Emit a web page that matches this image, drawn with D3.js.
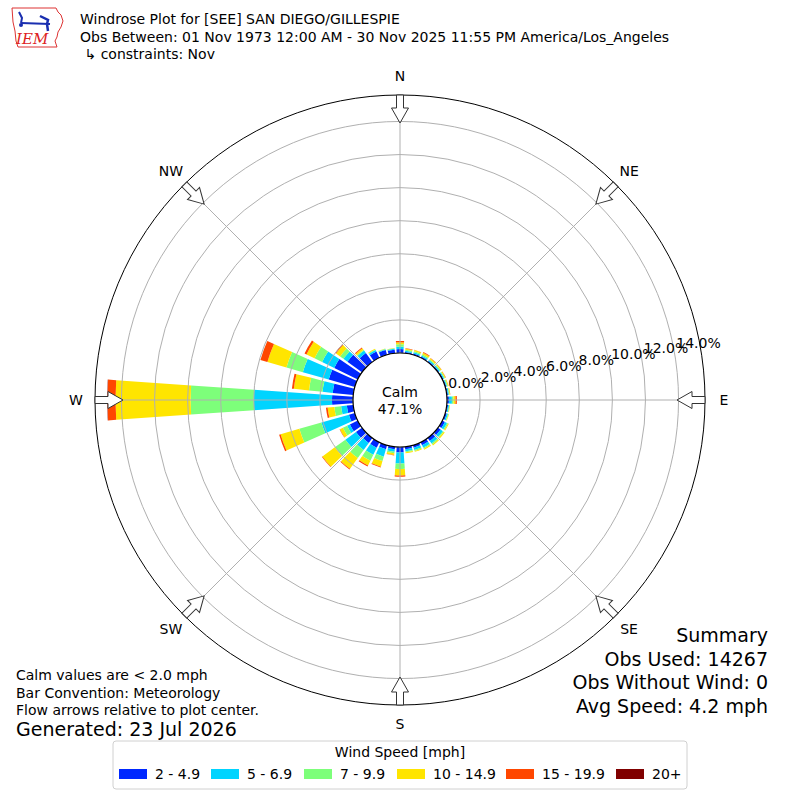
<!DOCTYPE html>
<html>
<head>
<meta charset="utf-8">
<script src="https://cdn.jsdelivr.net/npm/d3@7"></script>
<style>
body { margin: 0; background: #fff; }
text { font-family: "DejaVu Sans", sans-serif; fill: #000; }
</style>
</head>
<body>
<svg id="chart" width="800" height="800"></svg>
<script>
const cx = 400, cy = 400;
const calm_r = 47;
const outer_r = 305;

// wind direction bins (degrees, direction wind is from)
const directions = [0, 10, 20, 30, 40, 50, 60, 70, 80, 90, 100, 110, 120, 130, 140, 150, 160, 170,
                    180, 190, 200, 210, 220, 230, 240, 250, 260, 270, 280, 290, 300, 310, 320, 330, 340, 350];
const compassLabels = ["N", "NE", "E", "SE", "S", "SW", "W", "NW"];
const compassAngles = [0, 45, 90, 135, 180, 225, 270, 315];
const speedBins = ["2 - 4.9", "5 - 6.9", "7 - 9.9", "10 - 14.9", "15 - 19.9", "20+"];
const speedColors = ["#0028ff", "#00d4ff", "#7dff7a", "#ffe500", "#ff4700", "#800000"];

// percent of obs per direction and speed bin
const spd2_5 = [0.24, 0.08, 0.08, 0.08, 0.07, 0.07, 0.07, 0.07, 0.07, 0.12, 0.08, 0.10, 0.18, 0.20, 0.22, 0.20, 0.16, 0.15,
                0.33, 0.15, 0.25, 0.37, 0.37, 0.45, 0.53, 0.37, 0.39, 1.27, 1.25, 1.64, 1.58, 1.09, 0.67, 0.42, 0.30, 0.22];
const spd5_7 = [0.14, 0.07, 0.08, 0.08, 0.07, 0.07, 0.06, 0.05, 0.06, 0.18, 0.06, 0.08, 0.14, 0.16, 0.18, 0.16, 0.14, 0.13,
                0.67, 0.15, 0.47, 0.47, 0.53, 0.79, 0.19, 1.73, 0.35, 4.73, 0.62, 1.63, 0.82, 0.30, 0.18, 0.10, 0.05, 0.05];
const spd7_10 = [0.15, 0.07, 0.07, 0.08, 0.07, 0.06, 0.05, 0.05, 0.04, 0.10, 0.03, 0.04, 0.07, 0.07, 0.08, 0.07, 0.06, 0.06,
                 0.33, 0.10, 0.28, 0.40, 0.60, 0.79, 0.28, 1.39, 0.41, 3.82, 0.82, 1.03, 0.51, 0.25, 0.06, 0.04, 0.03, 0.03];
const spd10_15 = [0.12, 0.06, 0.07, 0.10, 0.07, 0.06, 0.05, 0.04, 0.04, 0.12, 0.03, 0.03, 0.06, 0.07, 0.07, 0.07, 0.06, 0.06,
                  0.39, 0.10, 0.35, 0.32, 0.80, 0.93, 0.20, 1.18, 0.41, 4.54, 0.92, 1.20, 0.54, 0.30, 0.12, 0.04, 0.02, 0.02];
const spd15_20 = [0.08, 0.02, 0.02, 0.04, 0.02, 0.02, 0.02, 0.01, 0.01, 0.08, 0, 0, 0, 0, 0, 0, 0, 0,
                  0.08, 0.03, 0.05, 0.07, 0.05, 0.04, 0.02, 0.09, 0.10, 0.49, 0.12, 0.44, 0.13, 0.06, 0.05, 0, 0, 0];
const spd20p = [0, 0, 0, 0, 0, 0, 0, 0, 0, 0, 0, 0, 0, 0, 0, 0, 0, 0,
                0, 0, 0, 0, 0, 0, 0, 0, 0, 0.02, 0, 0, 0, 0, 0, 0, 0, 0];
const rTicks = [0, 2, 4, 6, 8, 10, 12, 14];
const calmPct = "47.1%";

const titleLines = ["Windrose Plot for [SEE] SAN DIEGO/GILLESPIE",
                    "Obs Between: 01 Nov 1973 12:00 AM - 30 Nov 2025 11:55 PM America/Los_Angeles",
                    " \u21b3 constraints: Nov"];
const summaryLines = ["Summary", "Obs Used: 14267", "Obs Without Wind: 0", "Avg Speed: 4.2 mph"];
const noteLines = ["Calm values are < 2.0 mph", "Bar Convention: Meteorology", "Flow arrows relative to plot center."];

/* build a table for d3.stack */
function buildTable() {
    var series = [spd2_5, spd5_7, spd7_10, spd10_15, spd15_20, spd20p];
    var rows = [];
    for (var i = 0; i < directions.length; i++) {
        var row = {dir: directions[i]};
        for (var k = 0; k < speedBins.length; k++) {
            row[speedBins[k]] = series[k][i];
        }
        rows.push(row);
    }
    return rows;
}

function drawRose(svg) {
    var r = d3.scaleLinear().domain([0, 15.6]).range([calm_r, outer_r]);
    var rad = Math.PI / 180;
    var halfW = 4 * rad;

    var g = svg.append("g").attr("transform", `translate(${cx},${cy})`);

    var stacked = d3.stack().keys(speedBins)(buildTable());
    var arc = d3.arc();

    stacked.forEach((layer, k) => {
        g.selectAll(null)
            .data(layer.filter(d => d[1] - d[0] > 0))
            .enter()
            .append("path")
            .attr("fill", speedColors[k])
            .attr("d", d => arc({
                innerRadius: r(d[0]),
                outerRadius: r(d[1]),
                startAngle: d.data.dir * rad - halfW,
                endAngle: d.data.dir * rad + halfW
            }));
    });

    // grid on top of the bars like matplotlib
    g.selectAll("circle.ring")
        .data(rTicks)
        .enter()
        .append("circle")
        .attr("r", d => r(d))
        .attr("fill", "none")
        .attr("stroke", "#b0b0b0")
        .attr("stroke-width", 1);

    g.selectAll("line.spoke")
        .data(compassAngles)
        .enter()
        .append("line")
        .attr("x1", 0).attr("y1", 0)
        .attr("x2", d => outer_r * Math.sin(d * rad))
        .attr("y2", d => -outer_r * Math.cos(d * rad))
        .attr("stroke", "#b0b0b0")
        .attr("stroke-width", 1);

    g.append("circle")
        .attr("r", outer_r)
        .attr("fill", "none")
        .attr("stroke", "#000")
        .attr("stroke-width", 1);

    // calm circle
    g.append("circle")
        .attr("r", calm_r)
        .attr("fill", "#fff")
        .attr("stroke", "#000")
        .attr("stroke-width", 1.2);
    g.append("text").attr("text-anchor", "middle").attr("y", -3)
        .style("font-size", "14px").text("Calm");
    g.append("text").attr("text-anchor", "middle").attr("y", 14)
        .style("font-size", "14px").text(calmPct);

    // radial tick labels
    var la = 10 * rad;
    g.selectAll("text.rlab")
        .data(rTicks)
        .enter()
        .append("text")
        .attr("x", d => r(d) * Math.cos(la) + 2)
        .attr("y", d => -r(d) * Math.sin(la) - 4)
        .style("font-size", "14px")
        .text(d => d3.format(".1f")(d) + "%");

    // compass labels
    g.selectAll("text.compass")
        .data(compassAngles)
        .enter()
        .append("text")
        .attr("text-anchor", "middle")
        .attr("x", (d) => 324 * Math.sin(d * rad))
        .attr("y", (d) => -324 * Math.cos(d * rad) + 5)
        .style("font-size", "14px")
        .text((d, i) => compassLabels[i]);

    // flow arrows pointing at plot center
    var tip = outer_r - 28;
    var neck = outer_r - 13;
    var pts = [[-3.5, -outer_r], [3.5, -outer_r], [3.5, -neck], [8.5, -neck], [0, -tip],
               [-8.5, -neck], [-3.5, -neck]];
    g.selectAll("path.arrow")
        .data(compassAngles)
        .enter()
        .append("path")
        .attr("d", "M" + pts.map(p => p.join(",")).join("L") + "Z")
        .attr("transform", d => `rotate(${d})`)
        .attr("fill", "#fff")
        .attr("stroke", "#333")
        .attr("stroke-width", 1);
}

function drawLogo(svg) {
    var g = svg.append("g");
    g.append("path")
        .attr("d", "M12,8 L56,8 L58,12 L61,15 L63,21 L61,27 L58,32 L57,37 L55,41 L57,47 L18,47 L16,41 L15,31 L13,22 Z")
        .attr("fill", "none").attr("stroke", "#d33").attr("stroke-width", 1);
    g.append("line").attr("x1", 21).attr("y1", 23).attr("x2", 50).attr("y2", 24)
        .attr("stroke", "#1a2fb0").attr("stroke-width", 2);
    g.append("path").attr("d", "M19,12 L22,18 L21,23").attr("fill", "none")
        .attr("stroke", "#1a2fb0").attr("stroke-width", 2);
    g.append("path").attr("d", "M40,16 L48,20 L47,24 M47,24 L48,31").attr("fill", "none")
        .attr("stroke", "#1a2fb0").attr("stroke-width", 2.5);
    g.append("circle").attr("cx", 21).attr("cy", 25).attr("r", 2).attr("fill", "#1a2fb0");
    g.append("text").attr("x", 16).attr("y", 44)
        .style("font-family", "'DejaVu Serif', serif").style("font-style", "italic")
        .style("font-size", "15px").style("fill", "#d22").text("IEM");
}

function drawText(svg) {
    svg.selectAll("text.title")
        .data(titleLines)
        .enter()
        .append("text")
        .attr("x", 80)
        .attr("y", (d, i) => 24 + i * 17.5)
        .style("font-size", "14px")
        .style("white-space", "pre")
        .text(d => d);

    svg.selectAll("text.summary")
        .data(summaryLines)
        .enter()
        .append("text")
        .attr("x", 768)
        .attr("y", (d, i) => 642 + i * 23.5)
        .attr("text-anchor", "end")
        .style("font-size", "19px")
        .text(d => d);

    svg.selectAll("text.note")
        .data(noteLines)
        .enter()
        .append("text")
        .attr("x", 16)
        .attr("y", (d, i) => 680 + i * 17.5)
        .style("font-size", "14px")
        .text(d => d);

    svg.append("text").attr("x", 16).attr("y", 736)
        .style("font-size", "19px").text("Generated: 23 Jul 2026");
}

function drawLegend(svg) {
    var g = svg.append("g");
    g.append("rect").attr("x", 113).attr("y", 741).attr("width", 574).attr("height", 48)
        .attr("rx", 3).attr("fill", "#fff").attr("stroke", "#d0d0d0");
    g.append("text").attr("x", 400).attr("y", 757).attr("text-anchor", "middle")
        .style("font-size", "14px").text("Wind Speed [mph]");

    var x0 = [119, 211, 304, 397, 506, 616];
    var item = g.selectAll("g.item")
        .data(speedBins)
        .enter()
        .append("g")
        .attr("transform", (d, i) => `translate(${x0[i]},0)`);
    item.append("rect").attr("y", 769).attr("width", 28).attr("height", 10)
        .attr("fill", (d, i) => speedColors[i]);
    item.append("text").attr("x", 36).attr("y", 779)
        .style("font-size", "14px").text(d => d);
}

function main() {
    var svg = d3.select("#chart");
    drawRose(svg);
    drawLogo(svg);
    drawText(svg);
    drawLegend(svg);
}

main();
</script>
</body>
</html>
